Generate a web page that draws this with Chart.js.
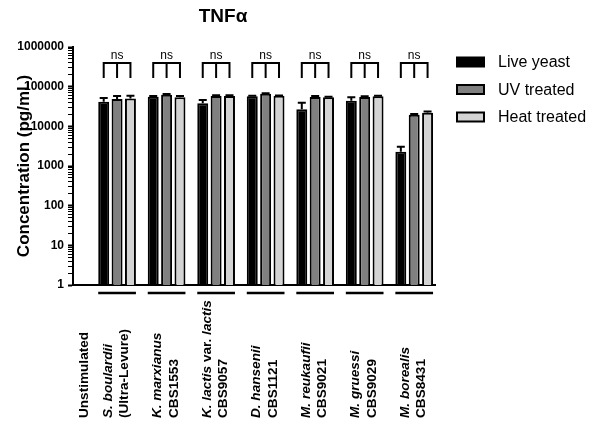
<!DOCTYPE html>
<html>
<head>
<meta charset="utf-8">
<title>TNFα</title>
<script src="https://cdn.jsdelivr.net/npm/chart.js@4/dist/chart.umd.min.js"></script>
<style>
  html, body { margin: 0; padding: 0; background: #fff; }
  #wrap { width: 601px; height: 423px; }
</style>
</head>
<body>
<div id="wrap"><canvas id="tnfChart" width="601" height="423"></canvas></div>
<script>
// x categories, two lines each (*...* = italic part)
const categoryLine1 = ['Unstimulated', '*S. boulardii*', '*K. marxianus*', '*K. lactis* var. *lactis*', '*D. hansenii*', '*M. reukaufii*', '*M. gruessi*', '*M. borealis*'];
const categoryLine2 = ['', '(Ultra-Levure)', 'CBS1553', 'CBS9057', 'CBS1121', 'CBS9021', 'CBS9029', 'CBS8431'];
const categoryPos = [0.33, 1, 2, 3, 4, 5, 6, 7];

// series (pg/mL), upper error only
const seriesNames = ['Live yeast', 'UV treated', 'Heat treated'];
const liveYeast    = [null, 41800, 56000, 38000, 57000, 26900, 44200, 2290];
const liveYeastErr = [null, 10000, 2000, 8000, 2000, 12500, 10000, 750];
const uvTreated    = [null, 49000, 63000, 58000, 66000, 55000, 55000, 19500];
const uvTreatedErr = [null, 9000, 2000, 3000, 2000, 3000, 2000, 1000];
const heatTreated    = [null, 50000, 54000, 58000, 59000, 54000, 57000, 22000];
const heatTreatedErr = [null, 9000, 4000, 3000, 1000, 2000, 2000, 1500];
const sigLabels = [null, 'ns', 'ns', 'ns', 'ns', 'ns', 'ns', 'ns'];

// y axis labels
const yTicks = [1, 10, 100, 1000, 10000, 100000, 1000000];

const FONT = '"Liberation Sans", Arial, sans-serif';

function points(values, errs) {
    return values.map((v, i) => v == null ? null : { x: categoryPos[i], y: v, err: errs[i] })
                 .filter(p => p !== null);
}

// minor ticks 2..9 inside each decade
const allYTicks = [];
yTicks.forEach((d, i) => {
    if (i === yTicks.length - 1) { allYTicks.push(d); return; }
    for (let m = 1; m <= 9; m++) allYTicks.push(d * m);
});

function drawRich(ctx, text, x, y, size) {
    // draws text with *italic* segments, left to right
    const parts = text.split('*');
    let cx = x;
    parts.forEach((p, k) => {
        if (!p) return;
        ctx.font = (k % 2 ? 'italic ' : '') + 'bold ' + size + 'px ' + FONT;
        ctx.fillText(p, cx, y);
        cx += ctx.measureText(p).width;
    });
}

const extras = {
    id: 'extras',
    afterDatasetsDraw(chart) {
        const ctx = chart.ctx;
        const yScale = chart.scales.y;
        const area = chart.chartArea;
        const metas = chart.data.datasets.map((d, i) => chart.getDatasetMeta(i));
        ctx.save();
        ctx.strokeStyle = '#000';
        ctx.fillStyle = '#000';
        ctx.lineWidth = 2;

        // error bars, upper half only
        metas.forEach((meta, i) => {
            const ds = chart.data.datasets[i];
            meta.data.forEach((bar, j) => {
                const p = ds.data[j];
                if (!p.err) return;
                const top = yScale.getPixelForValue(p.y + p.err);
                ctx.beginPath();
                ctx.moveTo(bar.x, bar.y);
                ctx.lineTo(bar.x, top);
                ctx.moveTo(bar.x - 4, top);
                ctx.lineTo(bar.x + 4, top);
                ctx.stroke();
            });
        });

        // significance brackets + group underlines
        const groups = categoryPos.map((v, i) => i).filter(i => liveYeast[i] != null);
        groups.forEach((catIdx, j) => {
            const xs = metas.map(m => m.data[j].x);
            const w = metas[0].data[j].width;
            const yTop = area.top + 16, yLeg = area.top + 31;
            ctx.beginPath();
            ctx.moveTo(xs[0], yLeg);
            ctx.lineTo(xs[0], yTop);
            ctx.lineTo(xs[2], yTop);
            ctx.lineTo(xs[2], yLeg);
            ctx.moveTo(xs[1], yTop);
            ctx.lineTo(xs[1], yLeg);
            ctx.stroke();
            if (sigLabels[catIdx]) {
                ctx.font = '12px ' + FONT;
                ctx.textAlign = 'center';
                ctx.textBaseline = 'middle';
                ctx.fillText(sigLabels[catIdx], xs[1], area.top + 9);
            }
            ctx.lineWidth = 2.5;
            ctx.beginPath();
            ctx.moveTo(xs[0] - w / 2, area.bottom + 8);
            ctx.lineTo(xs[2] + w / 2, area.bottom + 8);
            ctx.stroke();
            ctx.lineWidth = 2;
        });
        ctx.restore();
    },
    afterDraw(chart) {
        const ctx = chart.ctx;
        const xScale = chart.scales.x;
        const area = chart.chartArea;
        ctx.save();
        ctx.fillStyle = '#000';

        // rotated category labels
        ctx.textAlign = 'left';
        ctx.textBaseline = 'middle';
        categoryLine1.forEach((l1, i) => {
            const px = xScale.getPixelForValue(categoryPos[i]);
            const lines = categoryLine2[i] ? [l1, categoryLine2[i]] : [l1];
            ctx.save();
            ctx.translate(px, area.bottom + 133);
            ctx.rotate(-Math.PI / 2);
            lines.forEach((t, k) => {
                const off = lines.length === 1 ? 0 : (k === 0 ? -9 : 7.5);
                drawRich(ctx, t, 0, off, 13.6);
            });
            ctx.restore();
        });

        // title
        ctx.font = 'bold 19px ' + FONT;
        ctx.textAlign = 'center';
        ctx.fillText('TNFα', 223, 17);

        // legend
        ctx.textAlign = 'left';
        ctx.font = '16px ' + FONT;
        chart.data.datasets.forEach((ds, i) => {
            const cy = area.top + 15 + i * 27.5;
            const bx = area.right + 22;
            ctx.fillStyle = ds.backgroundColor;
            ctx.fillRect(bx, cy - 4.5, 27, 9);
            ctx.strokeStyle = '#000';
            ctx.lineWidth = 2;
            ctx.strokeRect(bx, cy - 4.5, 27, 9);
            ctx.fillStyle = '#000';
            ctx.fillText(ds.label, area.right + 63, cy + 1);
        });
        ctx.restore();
    }
};

document.addEventListener('DOMContentLoaded', function () {
    const canvas = document.getElementById('tnfChart');
    if (!canvas) return;

    const colors = ['#000000', '#808080', '#d3d3d3'];
    const values = [[liveYeast, liveYeastErr], [uvTreated, uvTreatedErr], [heatTreated, heatTreatedErr]];

    new Chart(canvas.getContext('2d'), {
        type: 'bar',
        data: {
            datasets: seriesNames.map((name, i) => ({
                label: name,
                data: points(values[i][0], values[i][1]),
                backgroundColor: colors[i],
                borderColor: '#000',
                borderWidth: 2,
                categoryPercentage: 0.81,
                barPercentage: 0.82
            }))
        },
        options: {
            responsive: false,
            animation: false,
            layout: { padding: { top: 47, right: 166, left: 0, bottom: 0 } },
            plugins: {
                legend: { display: false },
                title: { display: false },
                tooltip: { enabled: false }
            },
            scales: {
                x: {
                    type: 'linear',
                    offset: false,
                    bounds: 'data',
                    min: 0.11,
                    max: 7.42,
                    afterFit(scale) { scale.height = 138; },
                    afterBuildTicks(scale) {
                        scale.ticks = categoryPos.slice(1).map(v => ({ value: v }));
                    },
                    ticks: { display: false },
                    grid: { display: true, offset: false, drawOnChartArea: false, drawTicks: false },
                    border: { color: '#000', width: 2 }
                },
                y: {
                    type: 'logarithmic',
                    min: 1,
                    max: 1000000,
                    afterFit(scale) { scale.width = 73; },
                    afterBuildTicks(scale) {
                        scale.ticks = allYTicks.map(v => ({ value: v }));
                    },
                    ticks: {
                        autoSkip: false,
                        padding: 4,
                        color: '#000',
                        font: { family: FONT, size: 12, weight: 'bold' },
                        callback: v => yTicks.includes(v) ? String(v) : ''
                    },
                    grid: {
                        drawOnChartArea: false,
                        tickLength: 5,
                        tickColor: '#000',
                        tickWidth: c => (c.tick && yTicks.includes(c.tick.value)) ? 2 : 1
                    },
                    border: { color: '#000', width: 2 },
                    title: {
                        display: true,
                        text: 'Concentration (pg/mL)',
                        color: '#000',
                        font: { family: FONT, size: 17, weight: 'bold' },
                        padding: { top: 14, bottom: 0 }
                    }
                }
            }
        },
        plugins: [extras]
    });
});
</script>
</body>
</html>
